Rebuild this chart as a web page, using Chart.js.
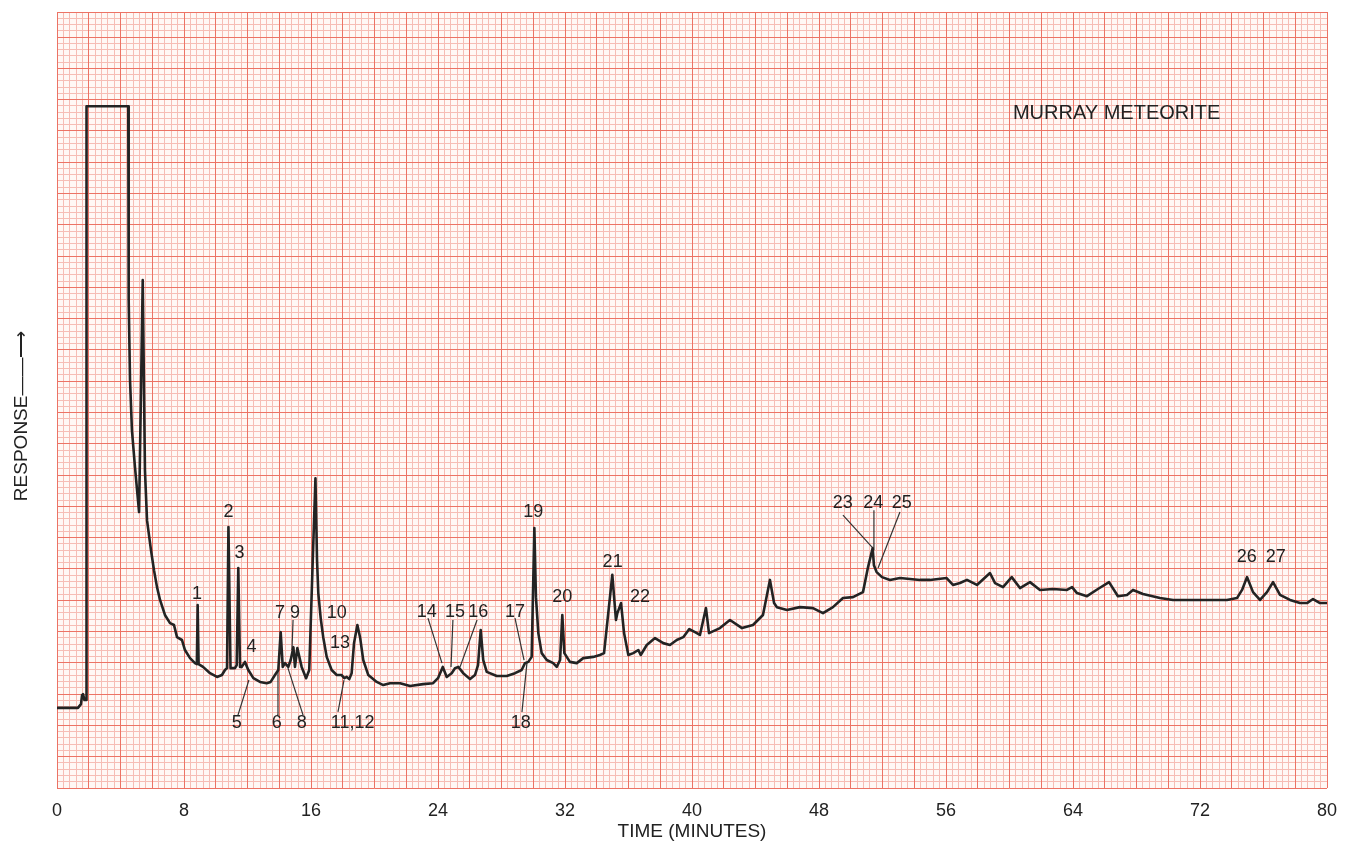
<!DOCTYPE html>
<html>
<head>
<meta charset="utf-8">
<script src="https://cdn.jsdelivr.net/npm/chart.js@4.4.1/dist/chart.umd.min.js"></script>
<style>
html,body{margin:0;padding:0;background:#ffffff;}
#wrap{width:1355px;height:845px;position:relative;}
canvas{display:block;}
</style>
</head>
<body>
<div id="wrap"><canvas id="c" width="1355" height="845"></canvas></div>
<script>
// ---- Data (time in minutes, response in chart divisions) ----
const timeMin = [0, 1.32, 1.51, 1.58, 1.64, 1.73, 1.86, 1.86, 4.49, 4.50,
  4.53, 4.60, 4.72, 4.91, 5.17, 5.40, 5.54, 5.67, 5.92, 6.11,
  6.30, 6.49, 6.80, 7.12, 7.37, 7.56, 7.87, 8.06, 8.38, 8.69,
  8.81, 8.86, 8.92, 9.20, 9.64, 10.08, 10.39, 10.58, 10.71, 10.80,
  10.93, 11.21, 11.32, 11.42, 11.53, 11.63, 11.84, 12.05, 12.37, 12.79,
  13.21, 13.46, 13.73, 13.94, 14.09, 14.22, 14.36, 14.57, 14.72, 14.89,
  14.99, 15.14, 15.41, 15.69, 15.89, 16.11, 16.28, 16.38, 16.46, 16.61,
  16.77, 16.99, 17.30, 17.62, 17.93, 18.10, 18.25, 18.41, 18.56, 18.71,
  18.92, 19.09, 19.29, 19.61, 20.14, 20.55, 20.98, 21.61, 22.24, 23.06,
  23.69, 24.00, 24.30, 24.55, 24.86, 25.07, 25.28, 25.59, 26.02, 26.33,
  26.52, 26.69, 26.85, 27.07, 27.70, 28.33, 28.85, 29.27, 29.48, 29.69,
  29.90, 30.07, 30.17, 30.32, 30.53, 30.85, 31.26, 31.48, 31.69, 31.83,
  31.96, 32.31, 32.74, 33.15, 33.78, 34.20, 34.46, 34.98, 35.21, 35.30,
  35.53, 35.72, 35.99, 36.30, 36.62, 36.77, 37.15, 37.67, 38.19, 38.61,
  39.04, 39.45, 39.83, 40.19, 40.50, 40.88, 41.07, 41.76, 42.39, 43.15,
  43.84, 44.47, 44.91, 45.17, 45.35, 45.98, 46.80, 47.62, 48.25, 48.88,
  49.51, 50.14, 50.77, 51.09, 51.38, 51.46, 51.63, 51.97, 52.47, 53.10,
  54.36, 54.99, 56.04, 56.44, 56.88, 57.32, 57.95, 58.77, 59.09, 59.59,
  60.14, 60.66, 61.29, 61.92, 62.74, 63.62, 63.94, 64.25, 64.88, 65.57,
  66.27, 66.83, 67.40, 67.78, 68.41, 69.48, 70.30, 71.18, 72.19, 73.70,
  74.33, 74.65, 74.96, 75.34, 75.78, 76.22, 76.60, 77.04, 77.67, 78.30,
  78.74, 79.12, 79.56, 80.00];

const response = [2.56, 2.56, 2.68, 2.97, 3.00, 2.81, 2.81, 21.79, 21.79, 17.19,
  15.59, 13.04, 11.44, 10.26, 8.82, 16.23, 10.16, 8.56, 7.60, 6.96,
  6.42, 6.01, 5.53, 5.27, 5.21, 4.82, 4.73, 4.41, 4.15, 3.99,
  3.96, 5.85, 3.96, 3.87, 3.67, 3.55, 3.61, 3.77, 3.83, 8.34,
  3.83, 3.83, 3.93, 7.03, 3.87, 3.87, 4.03, 3.77, 3.51, 3.39,
  3.35, 3.39, 3.61, 3.77, 4.98, 3.87, 3.99, 3.87, 4.09, 4.50,
  3.87, 4.47, 3.87, 3.51, 3.77, 7.28, 9.90, 7.28, 6.23, 5.43,
  4.82, 4.19, 3.77, 3.61, 3.61, 3.51, 3.55, 3.48, 3.67, 4.63,
  5.21, 4.82, 4.09, 3.61, 3.39, 3.29, 3.35, 3.35, 3.26, 3.32,
  3.35, 3.51, 3.87, 3.55, 3.67, 3.83, 3.87, 3.67, 3.48, 3.61,
  3.93, 5.05, 4.09, 3.71, 3.58, 3.58, 3.67, 3.77, 3.99, 4.03,
  4.19, 8.31, 6.10, 4.95, 4.31, 4.09, 3.99, 3.87, 4.09, 5.53,
  4.31, 4.03, 3.99, 4.15, 4.19, 4.25, 4.31, 6.81, 5.37, 5.59,
  5.91, 4.95, 4.25, 4.31, 4.41, 4.25, 4.57, 4.79, 4.63, 4.57,
  4.73, 4.82, 5.08, 4.98, 4.89, 5.75, 4.95, 5.11, 5.37, 5.11,
  5.21, 5.53, 6.65, 5.91, 5.78, 5.69, 5.78, 5.75, 5.59, 5.78,
  6.07, 6.10, 6.26, 7.06, 7.67, 7.12, 6.90, 6.74, 6.65, 6.71,
  6.65, 6.65, 6.71, 6.49, 6.55, 6.65, 6.49, 6.87, 6.55, 6.42,
  6.74, 6.39, 6.58, 6.33, 6.36, 6.33, 6.42, 6.23, 6.13, 6.36,
  6.58, 6.13, 6.17, 6.33, 6.20, 6.07, 6.01, 6.01, 6.01, 6.01,
  6.07, 6.33, 6.74, 6.26, 6.01, 6.26, 6.58, 6.17, 6.01, 5.91,
  5.91, 6.04, 5.91, 5.91];

// Axis range and tick labels
const timeRange = [0, 80];
const responseRange = [0, 24.8];
const timeTickStep = 8;
const xTitle = 'TIME (MINUTES)';
const yTitle = 'RESPONSE\u2014\u2014\u27F6      ';
const chartTitle = 'MURRAY METEORITE';
const chartTitleX = 66.75;
const chartTitleY = 21.57;

// Peak numbers and where they are written
const peakLabels = ['1','2','3','4','5','6','7','8','9','10','11,12','13','14','15','16','17','18','19','20','21','22','23','24','25','26','27'];
const peakLabelX = [8.82, 10.80, 11.49, 12.26, 11.32, 13.84, 14.05, 15.41, 15.00, 17.62, 18.62, 17.83, 23.29, 25.07, 26.54, 28.85, 29.21, 30.00, 31.83, 35.00, 36.72, 49.49, 51.42, 53.21, 74.94, 76.77];
const peakLabelY = [6.20, 8.83, 7.51, 4.52, 2.08, 2.08, 5.59, 2.08, 5.59, 5.59, 2.08, 4.62, 5.63, 5.63, 5.63, 5.63, 2.09, 8.83, 6.11, 7.23, 6.09, 9.10, 9.10, 9.10, 7.37, 7.37];

// Leader lines from a number to its peak (start = near number, end = on trace)
const leaderStartX = [11.40, 13.86, 15.50, 14.87, 17.70, 23.37, 24.94, 26.46, 28.85, 29.29, 49.51, 51.46, 53.10];
const leaderStartY = [2.33, 2.33, 2.33, 5.37, 2.43, 5.43, 5.37, 5.37, 5.43, 2.43, 8.72, 8.88, 8.82];
const leaderEndX   = [12.09, 13.92, 14.55, 14.80, 18.08, 24.25, 24.82, 25.39, 29.42, 29.61, 51.34, 51.46, 51.72];
const leaderEndY   = [3.45, 3.77, 3.83, 4.41, 3.45, 3.99, 3.87, 3.87, 4.09, 4.03, 7.70, 7.60, 7.03];

// ---- Styles ----
const FONT = '"Liberation Sans", Arial, Helvetica, sans-serif';
const paperColor = '#fff8f5';
const fineGrid = '#f6bdb5';
const midGrid = '#ec7365';
const inkColor = '#232323';
const textColor = '#222222';

const traceData = timeMin.map((t, i) => ({x: t, y: response[i]}));
const leaderSets = leaderStartX.map((sx, i) => ({
  type: 'line',
  data: [{x: sx, y: leaderStartY[i]}, {x: leaderEndX[i], y: leaderEndY[i]}],
  borderColor: '#333333',
  borderWidth: 1.2,
  pointRadius: 0,
  tension: 0,
  xAxisID: 'x', yAxisID: 'y'
}));

const paperPlugin = {
  id: 'paper',
  beforeDraw(chart) {
    const {ctx, chartArea: a} = chart;
    ctx.save();
    ctx.fillStyle = '#ffffff';
    ctx.fillRect(0, 0, chart.width, chart.height);
    ctx.fillStyle = paperColor;
    ctx.fillRect(a.left, a.top, a.right - a.left, a.bottom - a.top);
    ctx.restore();
  }
};

const textPlugin = {
  id: 'peakText',
  afterDatasetsDraw(chart) {
    const {ctx} = chart;
    const xs = chart.scales.x, ys = chart.scales.y;
    ctx.save();
    ctx.fillStyle = textColor;
    ctx.textAlign = 'center';
    ctx.textBaseline = 'middle';
    ctx.font = '18px ' + FONT;
    peakLabels.forEach((lab, i) => {
      ctx.fillText(lab, xs.getPixelForValue(peakLabelX[i]), ys.getPixelForValue(peakLabelY[i]));
    });
    ctx.font = '20px ' + FONT;
    ctx.fillText(chartTitle, xs.getPixelForValue(chartTitleX), ys.getPixelForValue(chartTitleY));
    ctx.restore();
  }
};

function gridAxis(pos, range, step, color, z) {
  return {
    type: 'linear', position: pos, min: range[0], max: range[1],
    ticks: {display: false, stepSize: step},
    grid: {display: true, color: color, lineWidth: 1, drawTicks: false, z: z},
    border: {display: false},
    afterFit(s) { if (pos === 'bottom') s.height = 0; else s.width = 0; }
  };
}

new Chart(document.getElementById('c'), {
  type: 'line',
  data: {
    datasets: [{
      data: traceData,
      borderColor: inkColor,
      borderWidth: 2.6,
      pointRadius: 0,
      tension: 0,
      borderJoinStyle: 'round',
      borderCapStyle: 'round',
      xAxisID: 'x', yAxisID: 'y'
    }].concat(leaderSets)
  },
  options: {
    responsive: false,
    animation: false,
    devicePixelRatio: 1,
    layout: {padding: {top: 12, right: 28, left: 0, bottom: 0}},
    plugins: {legend: {display: false}, tooltip: {enabled: false}},
    scales: {
      xf: gridAxis('bottom', timeRange, 0.4, fineGrid, -3),
      yf: gridAxis('left', responseRange, 0.2, fineGrid, -3),
      xm: gridAxis('bottom', timeRange, 2, midGrid, -2),
      ym: gridAxis('left', responseRange, 1, midGrid, -2),
      x: {
        type: 'linear', position: 'bottom', min: timeRange[0], max: timeRange[1],
        ticks: {stepSize: timeTickStep, color: textColor, font: {family: FONT, size: 18}, padding: 12, maxRotation: 0, autoSkip: false},
        grid: {display: false, drawTicks: false},
        border: {display: false},
        title: {display: true, text: xTitle, color: textColor, font: {family: FONT, size: 19}, padding: {top: 0, bottom: 2}},
        afterFit(s) { s.height = 57; }
      },
      y: {
        type: 'linear', position: 'left', min: responseRange[0], max: responseRange[1],
        ticks: {display: false},
        grid: {display: false, drawTicks: false},
        border: {display: false},
        title: {display: true, text: yTitle, color: textColor, font: {family: FONT, size: 19}, padding: {top: 10, bottom: 0}},
        afterFit(s) { s.width = 57; }
      }
    }
  },
  plugins: [paperPlugin, textPlugin]
});
</script>
</body>
</html>
